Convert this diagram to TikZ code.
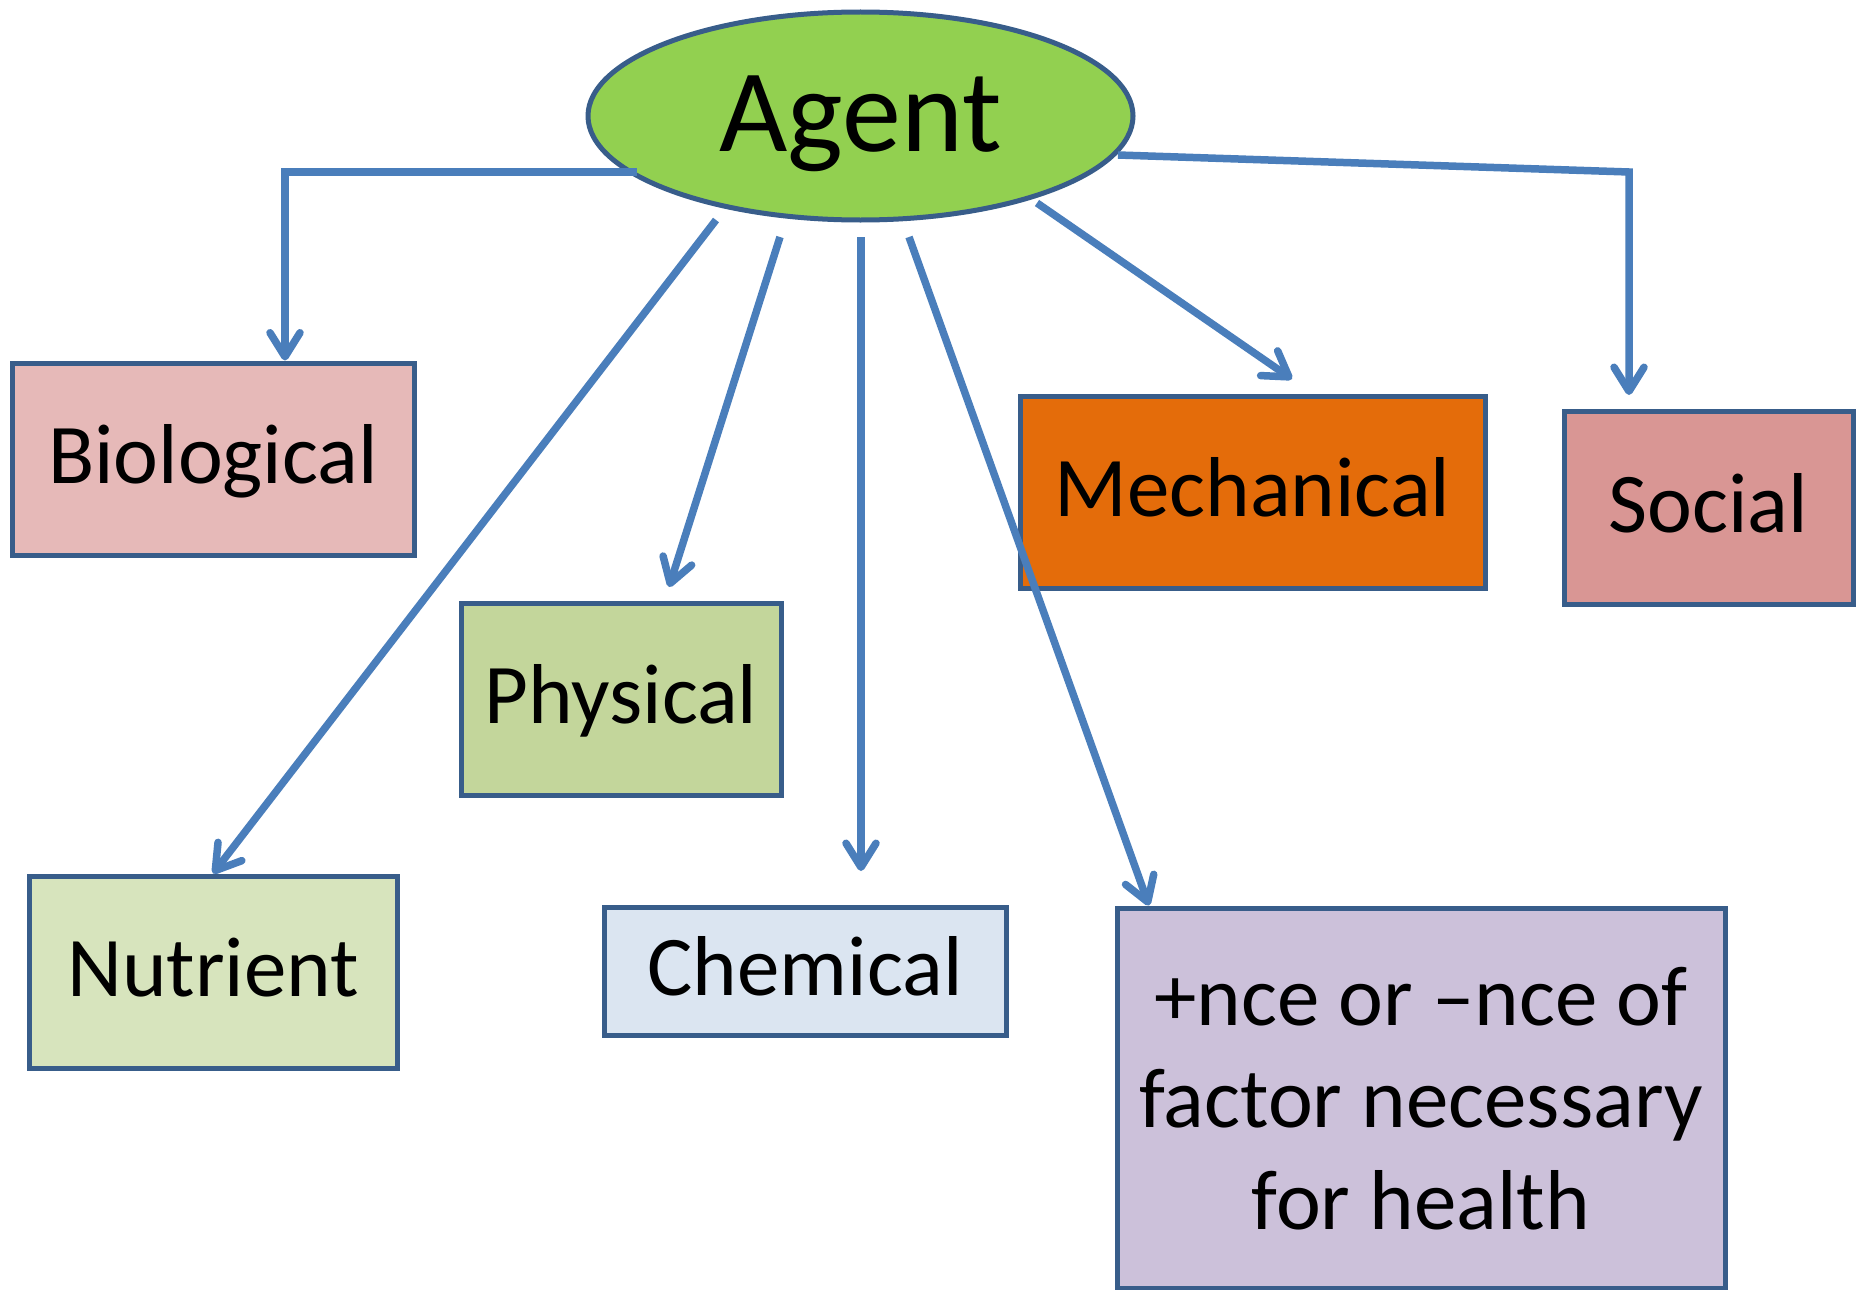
\documentclass[tikz,border=0pt]{standalone}
\usepackage{fontspec}
\setmainfont{Carlito}
\usetikzlibrary{arrows.meta,shapes.geometric}
\definecolor{arrowc}{HTML}{4A7EBB}
\definecolor{borderc}{HTML}{385D8A}
\definecolor{agentc}{HTML}{92D050}
\definecolor{bioc}{HTML}{E6B9B8}
\definecolor{phyc}{HTML}{C3D69B}
\definecolor{nutc}{HTML}{D7E4BD}
\definecolor{chemc}{HTML}{DBE5F1}
\definecolor{mechc}{HTML}{E46C0A}
\definecolor{socc}{HTML}{D99694}
\definecolor{posc}{HTML}{CCC1DA}
\tikzset{
  catbox/.style={draw=borderc, line width=5pt, rectangle, inner sep=0pt,
    font=\fontsize{85}{102}\selectfont, text height=49pt, text depth=0pt},
  arr/.style={draw=arrowc, line width=7.5pt,
    -{Straight Barb[round,length=24pt,width=30pt]}}
}
\begin{document}
\begin{tikzpicture}[x=1pt,y=-1pt]
\path[fill=white] (0,0) rectangle (1864,1290);
\useasboundingbox (0,0) rectangle (1864,1290);

\node[ellipse, draw=borderc, line width=5pt, fill=agentc, inner sep=0pt,
  minimum width=545pt, minimum height=208pt,
  font=\fontsize{118}{130}\selectfont, text height=71pt, text depth=0pt]
  (agent) at (860.5,116) {Agent};

\node[catbox, fill=bioc, minimum width=402pt, minimum height=192pt] (bio) at (213,459) {Biological};
\node[catbox, fill=phyc, minimum width=320pt, minimum height=192pt] (phys) at (621,699) {Physical};
\node[catbox, fill=nutc, minimum width=368pt, minimum height=192pt] (nutr) at (213,972) {Nutrient};
\node[catbox, fill=chemc, minimum width=402pt, minimum height=128pt] (chem) at (805,971) {Chemical};
\node[catbox, fill=mechc, minimum width=465pt, minimum height=192pt] (mech) at (1252.5,492) {Mechanical};
\node[catbox, fill=socc, minimum width=289pt, minimum height=193pt] (soc) at (1708.5,507.5) {Social};
\node[catbox, fill=posc, minimum width=608pt, minimum height=380pt] (pos) at (1421,1098) {};
\node[font=\fontsize{85}{102}\selectfont, align=center, inner sep=0pt, anchor=base]
  (postext) at (1421,1229) {+nce or –nce of\\factor necessary\\for health};

% connectors
\coordinate (sBio) at (637,172);
\coordinate (kBio) at (285,172);
\draw[arr] (sBio) -- (kBio) -- (kBio |- bio.north);

\coordinate (sNut) at (716,220);
\draw[arr] (sNut) -- (nutr.north);

\coordinate (sPhy) at (780,237);
\coordinate (ePhy) at (669,587);
\draw[arr] (sPhy) -- (ePhy);

\coordinate (sChem) at (861,237);
\coordinate (eChem) at (861,871);
\draw[arr] (sChem) -- (eChem);

\coordinate (sPos) at (909,237);
\coordinate (kPos) at (1149,908);
\draw[arr] (sPos) -- (kPos |- pos.north);

\coordinate (sMech) at (1037,203);
\coordinate (eMech) at (1292,379);
\draw[arr] (sMech) -- (eMech);

\coordinate (sSoc) at (1118,155);
\coordinate (kSoc) at (1629,172);
\coordinate (eSoc) at (1629,395);
\draw[arr] (sSoc) -- (kSoc) -- (eSoc);
\end{tikzpicture}
\end{document}
